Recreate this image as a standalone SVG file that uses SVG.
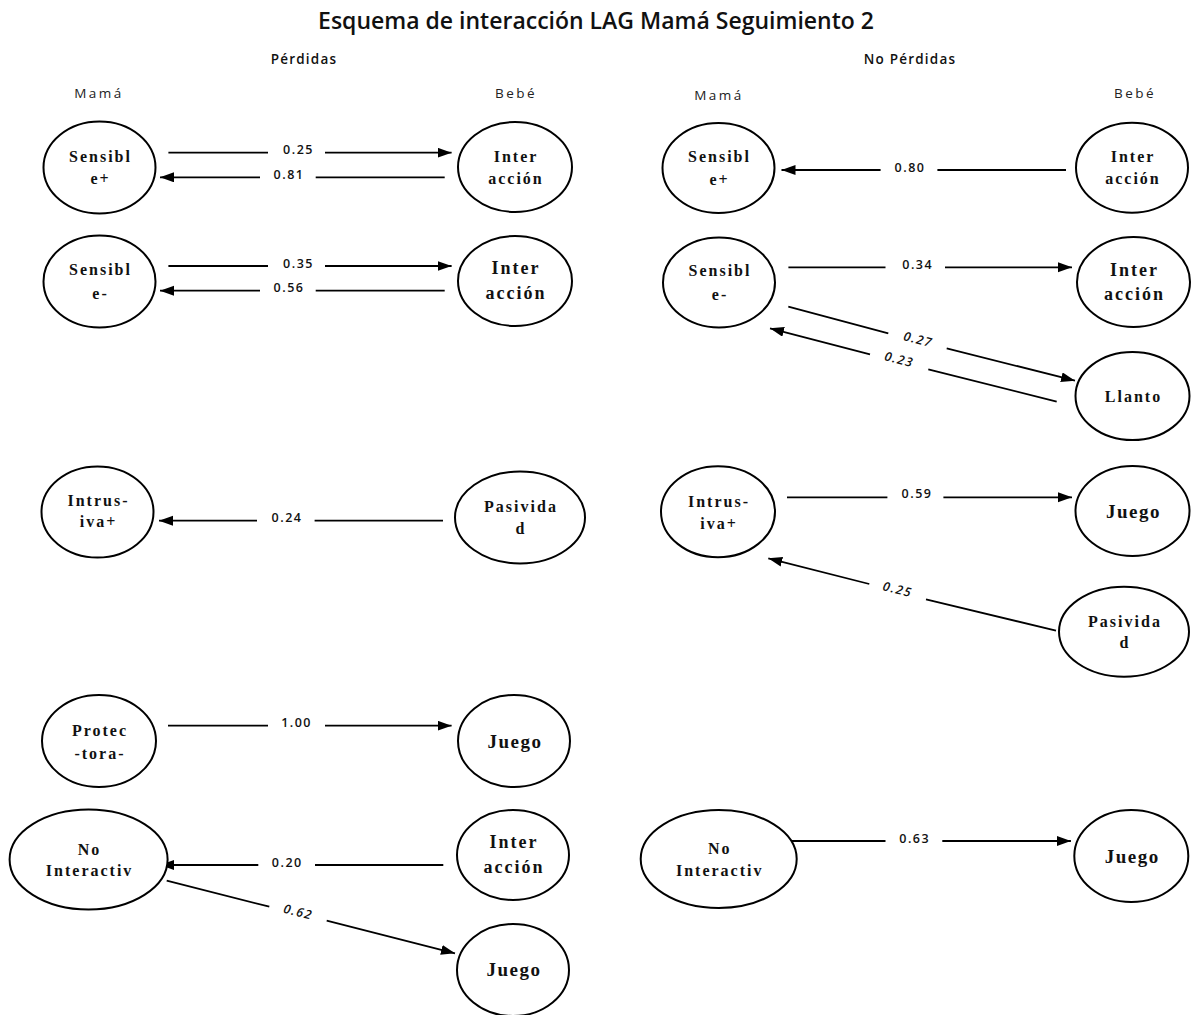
<svg xmlns="http://www.w3.org/2000/svg" width="1193" height="1015" viewBox="0 0 1193 1015">
<defs>
<marker id="ah" markerUnits="userSpaceOnUse" markerWidth="15" markerHeight="11" refX="14" refY="5" orient="auto">
<path d="M0,0 L14,5 L0,10 z" fill="#000"/>
</marker>
<style>
.bg{fill:#fff}
.node ellipse{fill:#fff;stroke:#000;stroke-width:2}
.nt{font-family:"Liberation Serif","Times New Roman",serif;font-weight:bold;font-size:16px;letter-spacing:2px;text-anchor:middle;fill:#111}
.nt.big{font-size:18px;letter-spacing:2px}
.nt.jg{font-size:19px;letter-spacing:1.5px}
.edges path{fill:none;stroke:#000;stroke-width:1.8;marker-end:url(#ah)}
.el{font-family:"Open Sans","Liberation Sans",sans-serif;font-weight:600;font-size:12.5px;letter-spacing:1.5px;text-anchor:middle;fill:#111}
.el.it{font-style:italic}
.title{font-family:"Open Sans","Liberation Sans",sans-serif;font-weight:600;font-size:23px;text-anchor:middle;fill:#111}
.sub{font-family:"Open Sans","Liberation Sans",sans-serif;font-weight:600;font-size:13.5px;letter-spacing:1.2px;text-anchor:middle;fill:#111}
.col{font-family:"Open Sans","Liberation Sans",sans-serif;font-size:13.5px;letter-spacing:2.5px;text-anchor:middle;fill:#222}
</style>
</defs>
<rect class="bg" x="0" y="0" width="1193" height="1015"/>

<g id="headings">
<text class="title" x="596" y="29">Esquema de interacción LAG Mamá Seguimiento 2</text>
<text class="sub" x="304" y="64">Pérdidas</text>
<text class="sub" x="910" y="64">No Pérdidas</text>
<text class="col" x="99" y="98">Mamá</text>
<text class="col" x="516" y="98">Bebé</text>
<text class="col" x="719" y="100">Mamá</text>
<text class="col" x="1135" y="98">Bebé</text>
</g>

<g id="edges" class="edges">
<path d="M168.4,152.7 H268 M325,152.7 H451.6"/>
<path d="M444.7,177.3 H315.7 M260,177.3 H160"/>
<path d="M168.4,266 H268 M325,266 H451.6"/>
<path d="M444.7,290.7 H315.7 M260,290.7 H160"/>
<path d="M443,520.7 H314.6 M257,520.7 H159"/>
<path d="M168,725.7 H268 M325,725.7 H451.6"/>
<path d="M443.3,865 H315 M258.3,865 H160"/>
<path d="M166.7,880.7 L269.3,906.7 M326.7,920.7 L455,953.3"/>
<path d="M1066,170 H937.4 M880.6,170 H781.5"/>
<path d="M788.4,267.3 H885.5 M945,267.3 H1072"/>
<path d="M788.3,306.7 L888.3,333.3 M946.7,348.3 L1075,380.7"/>
<path d="M1056.7,401.7 L928.3,369.3 M870,354.3 L770,328.3"/>
<path d="M787,497.3 H887.4 M943.4,497.3 H1072"/>
<path d="M1056,630.7 L926,599.3 M869.3,584 L768.3,558.3"/>
<path d="M785.3,841 H885.5 M942.3,841 H1070.9"/>
</g>

<g id="edge-labels">
<text class="el" x="298.5" y="154">0.25</text>
<text class="el" x="289" y="178.5">0.81</text>
<text class="el" x="298.5" y="267.5">0.35</text>
<text class="el" x="289" y="291.5">0.56</text>
<text class="el" x="287" y="521.5">0.24</text>
<text class="el" x="296.6" y="727.2">1.00</text>
<text class="el" x="287.3" y="867.2">0.20</text>
<text class="el it" transform="translate(298.3,911.7) rotate(14.1)" x="0" y="4.5">0.62</text>
<text class="el" x="910" y="171.8">0.80</text>
<text class="el" x="917.7" y="268.8">0.34</text>
<text class="el it" transform="translate(918.3,339.3) rotate(14.5)" x="0" y="4.5">0.27</text>
<text class="el it" transform="translate(899.3,359.3) rotate(14.4)" x="0" y="4.5">0.23</text>
<text class="el" x="917" y="497.8">0.59</text>
<text class="el it" transform="translate(897.7,589.3) rotate(14.1)" x="0" y="4.5">0.25</text>
<text class="el" x="914.7" y="842.8">0.63</text>
</g>

<g id="n-l-sensible-pos" class="node">
<ellipse cx="99.5" cy="167.5" rx="56" ry="46"/>
<text class="nt" x="100.5" y="161.5">Sensibl</text>
<text class="nt" x="100.5" y="183.5">e+</text>
</g>
<g id="n-l-interaccion-1" class="node">
<ellipse cx="515" cy="167" rx="57" ry="45"/>
<text class="nt" x="516" y="161.5">Inter</text>
<text class="nt" x="516" y="183.5">acción</text>
</g>
<g id="n-l-sensible-neg" class="node">
<ellipse cx="99.5" cy="281.5" rx="56" ry="46"/>
<text class="nt" x="100.5" y="274.5">Sensibl</text>
<text class="nt" x="100.5" y="298.5">e-</text>
</g>
<g id="n-l-interaccion-2" class="node">
<ellipse cx="515" cy="281" rx="57" ry="45"/>
<text class="nt big" x="516" y="274">Inter</text>
<text class="nt big" x="516" y="299">acción</text>
</g>
<g id="n-l-intrusiva" class="node">
<ellipse cx="97.5" cy="512" rx="56" ry="45.5"/>
<text class="nt" x="98.5" y="506">Intrus-</text>
<text class="nt" x="98.5" y="527">iva+</text>
</g>
<g id="n-l-pasividad" class="node">
<ellipse cx="520" cy="517.5" rx="65" ry="46"/>
<text class="nt" x="521" y="512">Pasivida</text>
<text class="nt" x="521" y="533.5">d</text>
</g>
<g id="n-l-protectora" class="node">
<ellipse cx="99" cy="741" rx="57" ry="46"/>
<text class="nt" x="100" y="735.5">Protec</text>
<text class="nt" x="100" y="758.5">-tora-</text>
</g>
<g id="n-l-juego-1" class="node">
<ellipse cx="514" cy="741" rx="56" ry="46"/>
<text class="nt jg" x="515" y="748">Juego</text>
</g>
<g id="n-l-nointeractiva" class="node">
<ellipse cx="88.6" cy="859.5" rx="79" ry="50"/>
<text class="nt" x="89.6" y="855">No</text>
<text class="nt" x="89.6" y="876">Interactiv</text>
</g>
<g id="n-l-interaccion-3" class="node">
<ellipse cx="513" cy="855" rx="56" ry="45"/>
<text class="nt big" x="514" y="848">Inter</text>
<text class="nt big" x="514" y="873">acción</text>
</g>
<g id="n-l-juego-2" class="node">
<ellipse cx="513" cy="970" rx="56" ry="46"/>
<text class="nt jg" x="514" y="976">Juego</text>
</g>

<g id="n-r-sensible-pos" class="node">
<ellipse cx="718.5" cy="168" rx="56" ry="45"/>
<text class="nt" x="719.5" y="161.5">Sensibl</text>
<text class="nt" x="719.5" y="185">e+</text>
</g>
<g id="n-r-interaccion-1" class="node">
<ellipse cx="1132" cy="167.7" rx="56" ry="45"/>
<text class="nt" x="1133" y="161.5">Inter</text>
<text class="nt" x="1133" y="184">acción</text>
</g>
<g id="n-r-sensible-neg" class="node">
<ellipse cx="719" cy="282.5" rx="56" ry="45"/>
<text class="nt" x="720" y="276">Sensibl</text>
<text class="nt" x="720" y="299.5">e-</text>
</g>
<g id="n-r-interaccion-2" class="node">
<ellipse cx="1133.5" cy="282" rx="56.5" ry="45"/>
<text class="nt big" x="1134.5" y="275.5">Inter</text>
<text class="nt big" x="1134.5" y="299.5">acción</text>
</g>
<g id="n-r-llanto" class="node">
<ellipse cx="1132.5" cy="396" rx="57" ry="44"/>
<text class="nt" x="1133.5" y="401.5">Llanto</text>
</g>
<g id="n-r-intrusiva" class="node">
<ellipse cx="718" cy="511.7" rx="57" ry="45.5"/>
<text class="nt" x="719" y="507">Intrus-</text>
<text class="nt" x="719" y="529">iva+</text>
</g>
<g id="n-r-juego-1" class="node">
<ellipse cx="1132.5" cy="511" rx="57" ry="45"/>
<text class="nt jg" x="1133.5" y="518">Juego</text>
</g>
<g id="n-r-pasividad" class="node">
<ellipse cx="1124" cy="631.7" rx="65" ry="45"/>
<text class="nt" x="1125" y="627">Pasivida</text>
<text class="nt" x="1125" y="647.5">d</text>
</g>
<g id="n-r-nointeractiva" class="node">
<ellipse cx="718.7" cy="859" rx="78" ry="49"/>
<text class="nt" x="719.7" y="854">No</text>
<text class="nt" x="719.7" y="875.5">Interactiv</text>
</g>
<g id="n-r-juego-2" class="node">
<ellipse cx="1131.3" cy="856" rx="57" ry="46"/>
<text class="nt jg" x="1132.3" y="863">Juego</text>
</g>
</svg>
